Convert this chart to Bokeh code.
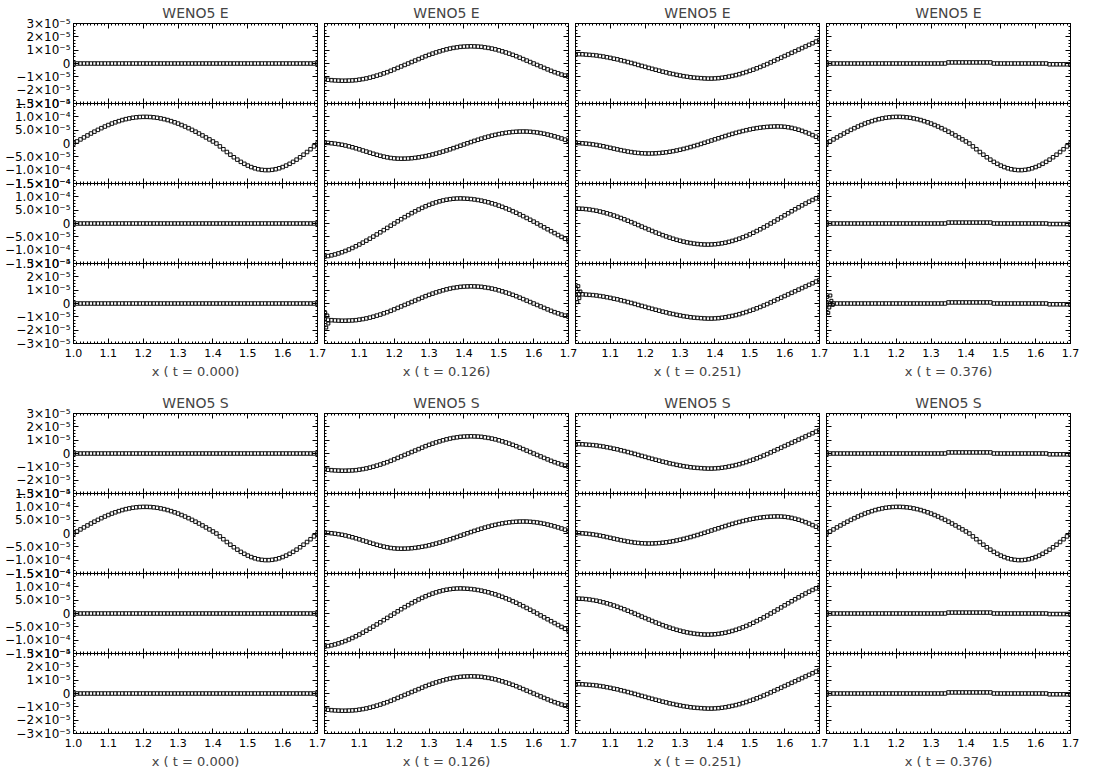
from bokeh.plotting import figure
from bokeh.layouts import row, column
from bokeh.models import FixedTicker, LinearAxis, Range1d
from bokeh.embed import file_html
from bokeh.resources import INLINE

# ---------------- data (values in units of 1e-5) ----------------
SCALE = 1e-5
X = [round(1.0 + 0.01 * i, 2) for i in range(71)]
TIMES = ["0.000", "0.126", "0.251", "0.376"]
GROUPS = ["WENO5 E", "WENO5 S"]

ZERO = [0.0] * 71

R2_T000 = [0, 0.77, 1.53, 2.28, 3.02, 3.74, 4.44, 5.11, 5.75, 6.36, 6.93, 7.47, 7.95, 8.39, 8.79, 9.13,
           9.41, 9.64, 9.82, 9.93, 9.99, 9.99, 9.93, 9.82, 9.64, 9.41, 9.13, 8.79, 8.39, 7.95, 7.47, 6.93,
           6.36, 5.75, 5.11, 4.44, 3.74, 3.02, 2.28, 1.53, 0.77, 0,
           -1.08, -2.15, -3.19, -4.20, -5.16, -6.05, -6.88, -7.62, -8.28, -8.84, -9.29, -9.64, -9.87, -9.99,
           -9.99, -9.87, -9.64, -9.29, -8.84, -8.28, -7.62, -6.88, -6.05, -5.16, -4.20, -3.19, -2.15, -1.08, 0]
R2_T376 = [0, 0.77, 1.53, 2.28, 3.02, 3.74, 4.44, 5.11, 5.75, 6.36, 6.93, 7.47, 7.95, 8.39, 8.79, 9.13,
           9.41, 9.64, 9.82, 9.93, 9.99, 9.99, 9.93, 9.82, 9.64, 9.41, 9.13, 8.79, 8.39, 7.95, 7.47, 6.93,
           6.36, 5.75, 5.11, 4.44, 3.74, 3.02, 2.28, 1.53, 0.77, 0,
           -1.08, -2.15, -3.19, -4.20, -5.16, -6.05, -6.88, -7.62, -8.28, -8.84, -9.29, -9.64, -9.87, -9.99,
           -9.99, -9.87, -9.64, -9.29, -8.84, -8.28, -7.62, -6.88, -6.05, -5.16, -4.20, -3.19, -2.15, -1.08, 0]

R1_T126 = [-1.18, -1.22, -1.25, -1.27, -1.28, -1.29, -1.29, -1.28, -1.27, -1.25,
           -1.21, -1.17, -1.12, -1.06, -0.99, -0.91, -0.83, -0.74, -0.65, -0.55,
           -0.44, -0.33, -0.22, -0.11, 0.0, 0.11, 0.22, 0.33, 0.44, 0.55,
           0.65, 0.74, 0.83, 0.91, 0.99, 1.06, 1.12, 1.17, 1.21, 1.25,
           1.27, 1.28, 1.29, 1.28, 1.27, 1.25, 1.21, 1.17, 1.12, 1.06,
           0.99, 0.91, 0.83, 0.74, 0.65, 0.55, 0.44, 0.33, 0.22, 0.11,
           0.0, -0.11, -0.22, -0.33, -0.44, -0.55, -0.65, -0.74, -0.83, -0.91, -0.99]

R1_T251 = [0.70, 0.70, 0.69, 0.67, 0.65, 0.63, 0.60, 0.56, 0.52, 0.47,
           0.42, 0.36, 0.31, 0.24, 0.18, 0.11, 0.04, -0.03, -0.11, -0.18,
           -0.25, -0.33, -0.40, -0.47, -0.54, -0.61, -0.67, -0.74, -0.79, -0.85,
           -0.90, -0.95, -0.99, -1.03, -1.06, -1.08, -1.10, -1.12, -1.13, -1.13,
           -1.12, -1.10, -1.07, -1.03, -0.98, -0.93, -0.87, -0.80, -0.72, -0.64,
           -0.55, -0.46, -0.36, -0.26, -0.15, -0.04, 0.08, 0.20, 0.32, 0.44,
           0.56, 0.68, 0.80, 0.92, 1.04, 1.16, 1.28, 1.40, 1.52, 1.64, 1.76]

R1_T376 = [0, 0, 0, 0, 0, 0, 0, 0, 0, 0, 0, 0, 0, 0, 0, 0, 0, 0, 0, 0,
           0, 0, 0, 0, 0, 0, 0, 0, 0, 0, 0, 0, 0, 0, 0,
           0.08, 0.08, 0.08, 0.08, 0.08, 0.08, 0.08, 0.08, 0.08, 0.08, 0.08, 0.08, 0.08,
           0, 0, 0, 0, 0, 0, 0, 0, 0, 0, 0, 0, 0, 0, 0, 0,
           -0.06, -0.06, -0.06, -0.06, -0.06, -0.06, -0.06]

R2_T126 = [0.30, 0.22, 0.10, -0.06, -0.25, -0.48, -0.75, -1.06, -1.41, -1.79, -2.19, -2.61, -3.03, -3.45,
           -3.85, -4.24, -4.60, -4.92, -5.20, -5.42, -5.58, -5.67, -5.70,
           -5.68, -5.62, -5.52, -5.38, -5.19, -4.98, -4.73, -4.44, -4.12, -3.78, -3.41, -3.02, -2.60,
           -2.18, -1.74, -1.29, -0.83, -0.37, 0.09, 0.54, 0.98, 1.40, 1.82, 2.21, 2.58, 2.93, 3.24,
           3.53, 3.78, 3.99, 4.18, 4.32, 4.42, 4.48, 4.50,
           4.48, 4.40, 4.28, 4.12, 3.91, 3.66, 3.36, 3.04, 2.68, 2.29, 1.88, 1.45, 1.00]

R2_T251 = [0.20, 0.15, 0.07, -0.04, -0.18, -0.35, -0.55, -0.79, -1.05, -1.34, -1.63, -1.92, -2.22, -2.50,
           -2.76, -3.01, -3.22, -3.41, -3.55, -3.66, -3.73, -3.75,
           -3.73, -3.68, -3.59, -3.46, -3.30, -3.11, -2.88, -2.62, -2.34, -2.03, -1.69, -1.34, -0.96,
           -0.57, -0.16, 0.26, 0.69, 1.12, 1.55, 1.96, 2.38, 2.80, 3.22, 3.61, 3.98, 4.34, 4.67, 4.99,
           5.27, 5.53, 5.76, 5.95, 6.11, 6.24, 6.33, 6.38, 6.40,
           6.36, 6.26, 6.08, 5.84, 5.53, 5.16, 4.73, 4.25, 3.72, 3.15, 2.54, 1.90]

R3_T126 = [-12.42, -12.21, -11.94, -11.61, -11.22, -10.78, -10.29, -9.75, -9.17, -8.54,
           -7.87, -7.18, -6.44, -5.69, -4.91, -4.11, -3.30, -2.48, -1.65, -0.82,
           0.00, 0.81, 1.61, 2.39, 3.14, 3.88, 4.57, 5.24, 5.87, 6.45,
           6.99, 7.48, 7.92, 8.31, 8.64, 8.91, 9.12, 9.28, 9.37, 9.40,
           9.35, 9.28, 9.17, 9.01, 8.81, 8.56, 8.27, 7.94, 7.57, 7.17,
           6.72, 6.25, 5.73, 5.19, 4.62, 4.02, 3.40, 2.75, 2.08, 1.40,
           0.71, 0.00, -0.72, -1.44, -2.16, -2.88, -3.60, -4.32, -5.03, -5.72, -6.40]

R3_T251 = [5.60, 5.58, 5.51, 5.39, 5.23, 5.03, 4.79, 4.50, 4.18, 3.82,
           3.42, 3.00, 2.54, 2.06, 1.56, 1.04, 0.51, -0.04, -0.59, -1.15,
           -1.71, -2.26, -2.81, -3.34, -3.86, -4.36, -4.84, -5.30, -5.72, -6.12,
           -6.48, -6.80, -7.09, -7.33, -7.53, -7.69, -7.81, -7.88, -7.90,
           -7.86, -7.78, -7.64, -7.44, -7.19, -6.89, -6.54, -6.14, -5.69, -5.20,
           -4.66, -4.09, -3.47, -2.83, -2.16, -1.46, -0.74, 0.00, 0.75, 1.51,
           2.28, 3.06, 3.83, 4.59, 5.35, 6.07, 6.80, 7.50, 8.17, 8.82, 9.43, 10.00]

R3_T376 = [0, 0, 0, 0, 0, 0, 0, 0, 0, 0, 0, 0, 0, 0, 0, 0, 0, 0, 0, 0,
           0, 0, 0, 0, 0, 0, 0, 0, 0, 0, 0, 0, 0, 0, 0,
           0.35, 0.35, 0.35, 0.35, 0.35, 0.35, 0.35, 0.35, 0.35, 0.35, 0.35, 0.35, 0.35,
           0, 0, 0, 0, 0, 0, 0, 0, 0, 0, 0, 0, 0, 0, 0, 0,
           -0.2, -0.2, -0.2, -0.2, -0.2, -0.2, -0.2]

# the 4th variable repeats the 1st one in the picture
R4_T126 = R1_T126
R4_T251 = R1_T251
R4_T376 = R1_T376

# start-up wiggles near x = 1.0 (WENO5 E, bottom panels only)
WIG_X_126 = [1.002, 1.005, 1.008, 1.011]
WIG_Y_126 = [-0.7, -1.8, -0.9, -1.5]
WIG_X_251 = [1.002, 1.005, 1.008, 1.011, 1.014]
WIG_Y_251 = [1.1, 0.1, 1.3, 0.4, 0.9]
WIG_X_376 = [1.002, 1.005, 1.008, 1.011, 1.014, 1.018]
WIG_Y_376 = [0.5, -0.7, -0.3, 0.6, 0.2, -0.1]

PANELS = [
    [ZERO, R1_T126, R1_T251, R1_T376],
    [R2_T000, R2_T126, R2_T251, R2_T376],
    [ZERO, R3_T126, R3_T251, R3_T376],
    [ZERO, R4_T126, R4_T251, R4_T376],
]
WIGGLES = [None, (WIG_X_126, WIG_Y_126), (WIG_X_251, WIG_Y_251), (WIG_X_376, WIG_Y_376)]

# axis ticks
X_TICKS = [1.0, 1.1, 1.2, 1.3, 1.4, 1.5, 1.6, 1.7]
X_LABELS_FIRST = {1.0: "1.0", 1.1: "1.1", 1.2: "1.2", 1.3: "1.3", 1.4: "1.4", 1.5: "1.5", 1.6: "1.6", 1.7: "1.7"}
X_LABELS_OTHER = {1.0: "", 1.1: "1.1", 1.2: "1.2", 1.3: "1.3", 1.4: "1.4", 1.5: "1.5", 1.6: "1.6", 1.7: "1.7"}
X_MINOR = [round(1.0 + 0.01 * i, 2) for i in range(71)]

SMALL_TICKS = [-3e-5, -2e-5, -1e-5, 0.0, 1e-5, 2e-5, 3e-5]
SMALL_LABELS = {-3e-5: "−3×10⁻⁵", -2e-5: "−2×10⁻⁵", -1e-5: "−1×10⁻⁵", 0.0: "0",
                1e-5: "1×10⁻⁵", 2e-5: "2×10⁻⁵", 3e-5: "3×10⁻⁵"}
SMALL_MINOR = [k * 0.25e-5 for k in range(-12, 13)]
BIG_TICKS = [-1.5e-4, -1e-4, -5e-5, 0.0, 5e-5, 1e-4, 1.5e-4]
BIG_LABELS = {-1.5e-4: "−1.5×10⁻⁴", -1e-4: "−1.0×10⁻⁴", -5e-5: "−5.0×10⁻⁵", 0.0: "0",
              5e-5: "5.0×10⁻⁵", 1e-4: "1.0×10⁻⁴", 1.5e-4: "1.5×10⁻⁴"}
BIG_MINOR = [k * 1.25e-5 for k in range(-12, 13)]
ROW_AXES = [(3e-5, SMALL_TICKS, SMALL_LABELS, SMALL_MINOR),
            (1.5e-4, BIG_TICKS, BIG_LABELS, BIG_MINOR),
            (1.5e-4, BIG_TICKS, BIG_LABELS, BIG_MINOR),
            (3e-5, SMALL_TICKS, SMALL_LABELS, SMALL_MINOR)]

FONT = "DejaVu Sans"
FW, FH, PAD = 244, 80, 11


def make_axis(ticks, minor, labels, size):
    ax = LinearAxis(ticker=FixedTicker(ticks=ticks, minor_ticks=minor),
                    major_tick_in=5, major_tick_out=0, minor_tick_in=2, minor_tick_out=0,
                    axis_line_color="black", major_tick_line_color="black",
                    minor_tick_line_color="black", axis_line_width=1)
    if labels:
        ax.major_label_overrides = labels
        ax.major_label_text_font = FONT
        ax.major_label_text_font_size = size
        ax.major_label_text_color = "black"
        ax.major_label_standoff = 3
    else:
        # tick marks only: labels are not drawn at all
        ax.major_label_text_color = None
        ax.major_label_standoff = 0
    return ax


def make_panel(g, r, c):
    lim, yt, ylab, ymin = ROW_AXES[r]
    left = 73 if c == 0 else 7 + PAD
    right = 23 if c == 3 else PAD
    top = 23 if r == 0 else PAD
    bottom = (47 if g == 0 else 50) if r == 3 else PAD
    margin = (0 if r == 0 else -PAD, 0 if c == 3 else -PAD, 0 if r == 3 else -PAD, 0 if c == 0 else -PAD)
    p = figure(width=left + FW + right, height=top + FH + bottom,
               x_range=Range1d(1.0, 1.7), y_range=Range1d(-lim, lim),
               x_axis_location=None, y_axis_location=None, tools="",
               toolbar_location=None, output_backend="svg",
               min_border_left=left, min_border_right=right,
               min_border_top=top, min_border_bottom=bottom, margin=margin)
    p.grid.visible = False
    p.background_fill_alpha = 0
    p.border_fill_alpha = 0
    p.outline_line_color = "black"

    p.add_layout(make_axis(yt, ymin, ylab if c == 0 else None, "12px"), "left")
    p.add_layout(make_axis(yt, ymin, None, None), "right")
    p.add_layout(make_axis(X_TICKS, X_MINOR, None, None), "above")
    if r == 3:
        xa = make_axis(X_TICKS, X_MINOR, X_LABELS_FIRST if c == 0 else X_LABELS_OTHER, "11px")
        xa.major_label_standoff = 5
        xa.axis_label = "x ( t = " + TIMES[c] + ")"
        xa.axis_label_text_font = FONT
        xa.axis_label_text_font_size = "13px"
        xa.axis_label_text_font_style = "normal"
        xa.axis_label_standoff = 4
        p.add_layout(xa, "below")
    else:
        p.add_layout(make_axis(X_TICKS, X_MINOR, None, None), "below")

    if r == 0:
        p.title.text = GROUPS[g]
        p.title.align = "center"
        p.title.text_font = FONT
        p.title.text_font_size = "14px"
        p.title.text_font_style = "normal"
        p.title.standoff = 5
    else:
        p.title.visible = False

    ys = [v * SCALE for v in PANELS[r][c]]
    p.scatter(X, ys, marker="square", size=3.5, fill_color=None, line_color="#111111", line_width=1)
    if g == 0 and r == 3 and WIGGLES[c] is not None:
        wx, wy = WIGGLES[c]
        p.scatter(wx, [v * SCALE for v in wy], marker="square", size=3, fill_color=None,
                  line_color="black", line_width=1)
    return p


rows = []
for g in range(2):
    for r in range(4):
        rows.append(row([make_panel(g, r, c) for c in range(4)]))
layout = column(rows)

open("out.html", "w").write(file_html(layout, INLINE))
